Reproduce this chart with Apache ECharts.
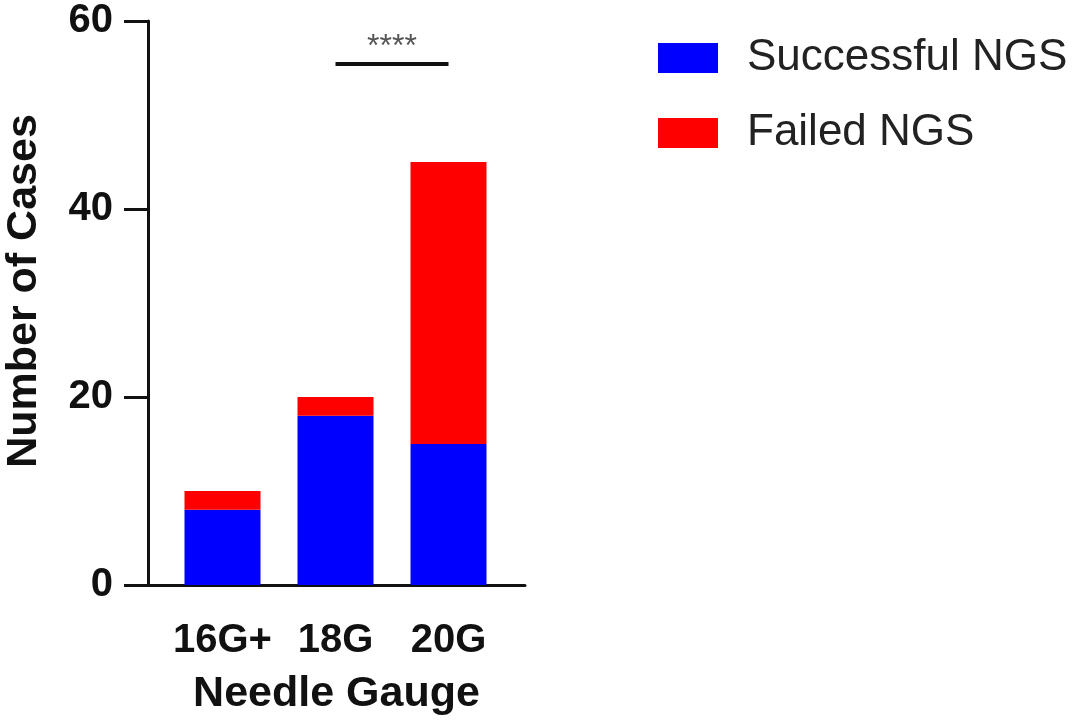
<!DOCTYPE html>
<html>
<head>
<meta charset="utf-8">
<script src="https://cdn.jsdelivr.net/npm/echarts@6/dist/echarts.min.js"></script>
<style>html,body{margin:0;padding:0;background:#fff}#c{width:1086px;height:724px}</style>
</head>
<body>
<div id="c"></div>
<script>
const categories = ['16G+', '18G', '20G'];
const successful = [8, 18, 15];
const failed = [2, 2, 30];
const sigFrom = '18G';
const sigTo = '20G';
const sigLevel = 55.5;
const sigText = '****';
const yTicks = { min: 0, max: 60, interval: 20 };

const FONT = '"Liberation Sans", Arial, Helvetica, sans-serif';
const chart = echarts.init(document.getElementById('c'));
chart.setOption({
  animation: false,
  backgroundColor: '#fff',
  textStyle: { fontFamily: FONT },
  grid: [
    { left: 166, right: 581, top: 21, bottom: 139 },
    { left: 148, right: 561, top: 21, bottom: 139 }
  ],
  legend: {
    left: 653, top: 31, orient: 'vertical',
    itemWidth: 60, itemHeight: 30, itemGap: 31,
    icon: 'rect',
    textStyle: { fontSize: 44, color: '#222', fontFamily: FONT, lineHeight: 44, padding: [0, 0, 0, 24] },
    data: ['Successful NGS', 'Failed NGS']
  },
  xAxis: [
    {
      type: 'category', gridIndex: 0, data: categories,
      axisLine: { show: false }, axisTick: { show: false },
      axisLabel: { interval: 0, fontSize: 40, fontWeight: 'bold', color: '#111', margin: 36, fontFamily: FONT }
    },
    {
      type: 'value', gridIndex: 1, min: 0, max: 1,
      axisLine: { show: true, lineStyle: { color: '#111', width: 3 } },
      axisTick: { show: false }, axisLabel: { show: false }, splitLine: { show: false },
      name: 'Needle Gauge', nameLocation: 'middle', nameGap: 88,
      nameTextStyle: { fontSize: 43, fontWeight: 'bold', color: '#111', fontFamily: FONT }
    }
  ],
  yAxis: [
    {
      type: 'value', gridIndex: 0, min: yTicks.min, max: yTicks.max, interval: yTicks.interval,
      show: false
    },
    {
      type: 'value', gridIndex: 1, min: yTicks.min, max: yTicks.max, interval: yTicks.interval,
      axisLine: { show: true, lineStyle: { color: '#111', width: 3 } },
      axisTick: { show: true, length: 24, lineStyle: { color: '#111', width: 3 } },
      axisLabel: { fontSize: 40, fontWeight: 'bold', color: '#111', margin: 35, fontFamily: FONT },
      splitLine: { show: false },
      name: 'Number of Cases', nameLocation: 'middle', nameGap: 102, nameRotate: 90,
      nameTextStyle: { fontSize: 43, fontWeight: 'bold', color: '#111', fontFamily: FONT, padding: [0, 0, 0, 24] }
    }
  ],
  series: [
    {
      name: 'Successful NGS', type: 'bar', stack: 'a', xAxisIndex: 0, yAxisIndex: 0,
      data: successful, barWidth: 76, itemStyle: { color: '#0000ff' }
    },
    {
      name: 'Failed NGS', type: 'bar', stack: 'a', xAxisIndex: 0, yAxisIndex: 0,
      data: failed, barWidth: 76, itemStyle: { color: '#ff0000' },
      markLine: {
        silent: true, symbol: ['none', 'none'],
        lineStyle: { color: '#111', width: 4, type: 'solid' },
        label: { show: true, position: 'middle', formatter: sigText, fontSize: 32, color: '#555', distance: 0, fontFamily: FONT },
        data: [[{ coord: [sigFrom, sigLevel] }, { coord: [sigTo, sigLevel] }]]
      }
    }
  ]
});
</script>
</body>
</html>
